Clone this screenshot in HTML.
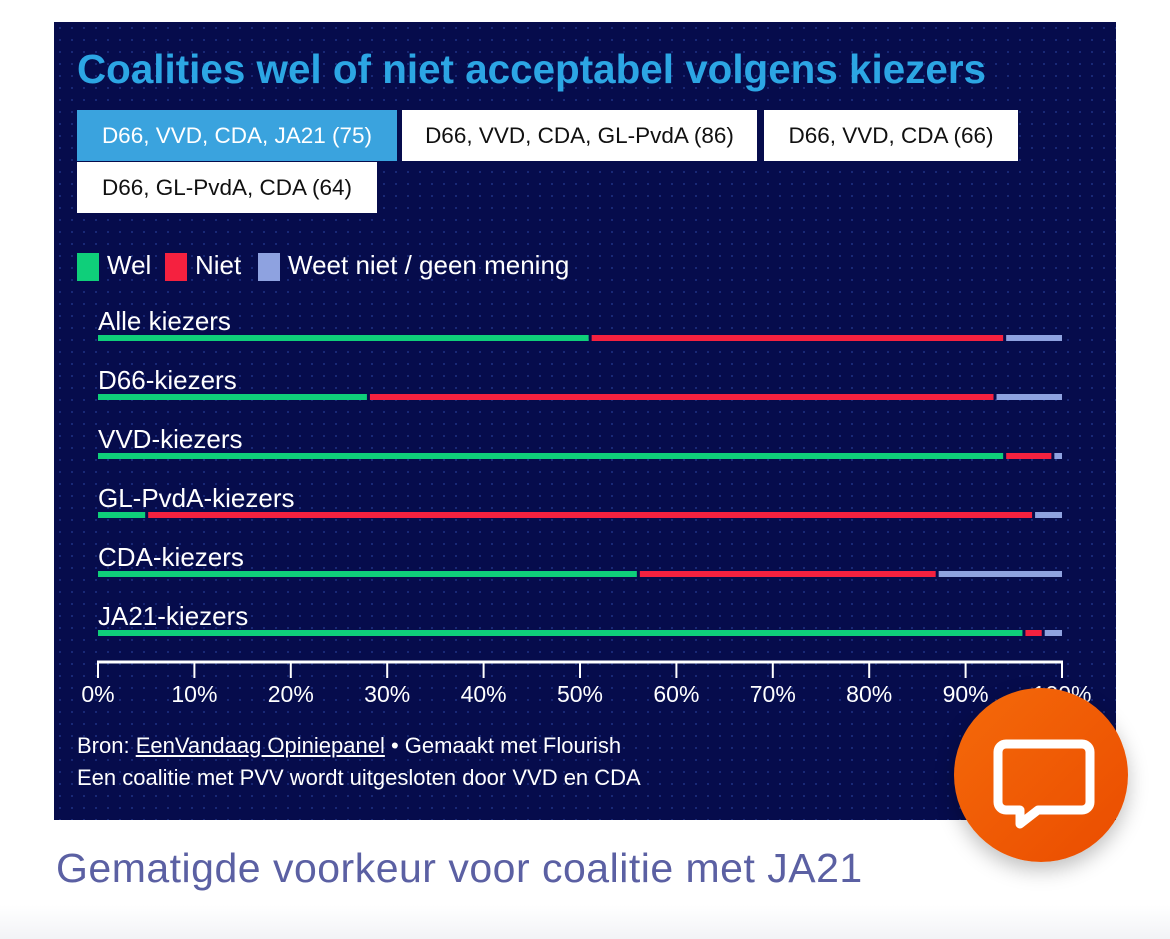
<!DOCTYPE html>
<html><head><meta charset="utf-8"><style>
body{margin:0;width:1170px;height:939px;background:#fff;position:relative;overflow:hidden;font-family:"Liberation Sans",sans-serif}
#panel{position:absolute;left:54px;top:22px;width:1062px;height:798px;background:#060c4c;background-image:radial-gradient(#1a2a7a 1px,transparent 1.2px);background-size:12px 12px}
.t{position:absolute;white-space:nowrap}
.btn{position:absolute;height:51px;line-height:51px;text-align:center;font-size:22.5px;background:#fff;color:#111}
.leg{position:absolute;top:253px;width:22px;height:28px}
#fab{position:absolute;left:954px;top:688px;width:174px;height:174px;border-radius:50%;background:linear-gradient(135deg,#f56a0a,#ea4c00);box-shadow:0 8px 20px rgba(0,0,0,.25)}
#bottom{position:absolute;left:0;top:905px;width:1170px;height:34px;background:linear-gradient(#fff,#f2f3f6)}
</style></head><body>
<div id="bottom"></div>
<div id="panel"></div>
<div class="t" style="left:77px;top:46px;font-size:41px;font-weight:bold;color:#2ca6e4;transform:scaleX(0.985);transform-origin:left">Coalities wel of niet acceptabel volgens kiezers</div>
<div class="btn" style="left:77px;top:110px;width:320px;background:#3aa3de;color:#fff">D66, VVD, CDA, JA21 (75)</div>
<div class="btn" style="left:402px;top:110px;width:355px">D66, VVD, CDA, GL-PvdA (86)</div>
<div class="btn" style="left:764px;top:110px;width:254px">D66, VVD, CDA (66)</div>
<div class="btn" style="left:77px;top:162px;width:300px">D66, GL-PvdA, CDA (64)</div>
<div class="leg" style="left:77px;background:#0fcf7a"></div>
<div class="t" style="left:107px;top:250px;font-size:26px;color:#fff">Wel</div>
<div class="leg" style="left:165px;background:#f5213f"></div>
<div class="t" style="left:195px;top:250px;font-size:26px;color:#fff">Niet</div>
<div class="leg" style="left:258px;background:#8ea2e0"></div>
<div class="t" style="left:288px;top:250px;font-size:26px;color:#fff">Weet niet / geen mening</div>
<svg id="chart" width="1170" height="939" style="position:absolute;left:0;top:0"></svg>
<div class="t" style="left:77px;top:733px;font-size:22px;color:#fff">Bron: <u>EenVandaag Opiniepanel</u> • Gemaakt met Flourish</div>
<div class="t" style="left:77px;top:765px;font-size:22px;color:#fff">Een coalitie met PVV wordt uitgesloten door VVD en CDA</div>
<div class="t" style="left:56px;top:845px;font-size:41px;letter-spacing:0.5px;color:#5b60a3">Gematigde voorkeur voor coalitie met JA21</div>
<div id="fab">
<svg width="174" height="174"><path d="M52 56 h76 a8 8 0 0 1 8 8 v50 a8 8 0 0 1 -8 8 h-44 l-18 14 v-14 h-14 a8 8 0 0 1 -8 -8 v-50 a8 8 0 0 1 8 -8z" fill="none" stroke="#fff" stroke-width="9" stroke-linejoin="round"/></svg></div>
<script>
const categories=["Alle kiezers","D66-kiezers","VVD-kiezers","GL-PvdA-kiezers","CDA-kiezers","JA21-kiezers"];
const wel=[51,28,94,5,56,96];
const niet=[43,65,5,92,31,2];
const weetNiet=[6,7,1,3,13,2];
const ticks=[0,10,20,30,40,50,60,70,80,90,100];
const svg=document.getElementById('chart');const NS='http://www.w3.org/2000/svg';
const x=v=>98+v*(1062-98)/100;const y=i=>338+i*59;
function mk(t,a){const e=document.createElementNS(NS,t);for(const k in a)e.setAttribute(k,a[k]);svg.appendChild(e);return e;}
const cols=['#0fcf7a','#f5213f','#8ea2e0'];const names=['wel','niet','weet-niet'];
categories.forEach((c,i)=>{
 const tx=mk('text',{x:98,y:y(i)-8,fill:'#fff','font-size':26,'font-family':'"Liberation Sans",sans-serif'});tx.textContent=c;
 
 
 const vals=[wel[i],niet[i],weetNiet[i]];let s=0;
 vals.forEach((v,j)=>{const x0=x(s)+(j?2:0),x1=x(s+v)-(j<2?1:0);s+=v;
  const r=mk('rect',{x:x0,y:y(i)-3,width:Math.max(0,x1-x0),height:6,fill:cols[j]});
  
  });
});
const ax=mk('line',{x1:x(0)-1,x2:x(100)+1,y1:662,y2:662,stroke:'#fff','stroke-width':3});


ticks.forEach(t=>{const l=mk('line',{x1:x(t),x2:x(t),y1:662,y2:678,stroke:'#fff','stroke-width':2});
 
 
 const tx=mk('text',{x:x(t),y:702,fill:'#fff','font-size':23,'text-anchor':'middle','font-family':'"Liberation Sans",sans-serif'});tx.textContent=t+'%';
 
 });
</script>
</body></html>
